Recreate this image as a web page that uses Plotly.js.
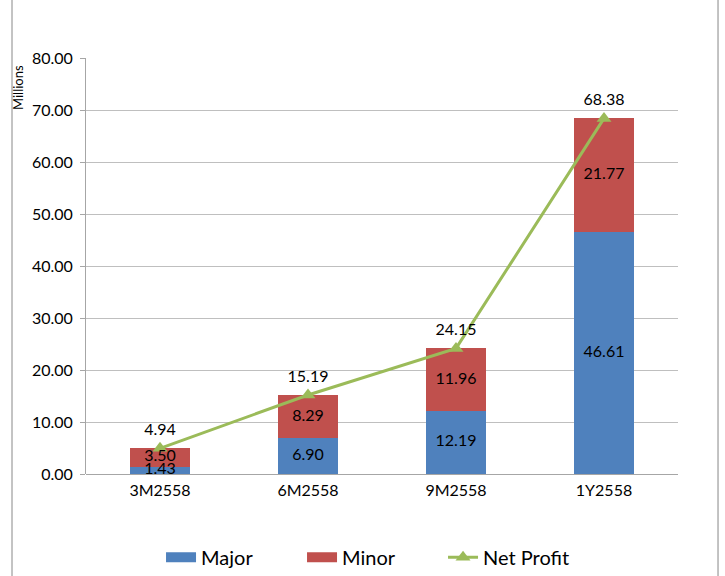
<!DOCTYPE html>
<html>
<head>
<meta charset="utf-8">
<script src="https://cdn.plot.ly/plotly-3.0.1.min.js"></script>
<style>html,body{margin:0;padding:0;background:#fff;}#chart{width:725px;height:576px;}</style>
</head>
<body>
<div id="chart"></div>
<script>
const categories = ["3M2558", "6M2558", "9M2558", "1Y2558"];
const major = [1.43, 6.90, 12.19, 46.61];
const minor = [3.50, 8.29, 11.96, 21.77];
const netProfit = [4.94, 15.19, 24.15, 68.38];
const yTicks = [0, 10, 20, 30, 40, 50, 60, 70, 80];

const fmt = v => v.toFixed(2);
const FONT = "Lato, 'Open Sans', sans-serif";
const BLUE = "#4F81BD", RED = "#C0504D", GREEN = "#9BBB59";

// segment label positions derived from the data (middle of each stacked segment)
const majorMid = major.map(v => v / 2);
const minorMid = minor.map((v, i) => major[i] + v / 2);

const traces = [
  {type: "bar", name: "Major", x: categories, y: major, marker: {color: BLUE},
   hoverinfo: "none", width: 0.4, showlegend: false},
  {type: "bar", name: "Minor", x: categories, y: minor, marker: {color: RED},
   hoverinfo: "none", width: 0.4, showlegend: false},
  // legend stand-ins (wide rectangles like the reference)
  {type: "scatter", name: "Major", x: [null], y: [null], mode: "lines",
   line: {color: BLUE, width: 10}, hoverinfo: "none"},
  {type: "scatter", name: "Minor", x: [null], y: [null], mode: "lines",
   line: {color: RED, width: 10}, hoverinfo: "none"},
  {
    type: "scatter", name: "Net Profit", x: categories, y: netProfit,
    mode: "lines+markers+text",
    line: {color: GREEN, width: 3},
    marker: {symbol: "triangle-up", size: 13, color: GREEN},
    text: netProfit.map(fmt), textposition: "top center",
    textfont: {family: FONT, size: 16, color: "#000"},
    cliponaxis: false, hoverinfo: "none"
  },
  {type: "scatter", x: categories, y: majorMid, mode: "text", text: major.map(fmt),
   textposition: "middle center", textfont: {family: FONT, size: 16, color: "#000"},
   showlegend: false, hoverinfo: "none", cliponaxis: false},
  {type: "scatter", x: categories, y: minorMid, mode: "text", text: minor.map(fmt),
   textposition: "middle center", textfont: {family: FONT, size: 16, color: "#000"},
   showlegend: false, hoverinfo: "none", cliponaxis: false}
];

const layout = {
  width: 725, height: 576,
  margin: {l: 86, r: 47, t: 57.5, b: 102, autoexpand: false},
  paper_bgcolor: "#fff", plot_bgcolor: "#fff",
  barmode: "stack",
  font: {family: FONT, size: 16, color: "#000"},
  xaxis: {
    type: "category", showgrid: false, zeroline: false,
    showline: false, ticks: "", ticklabelstandoff: 5,
    tickfont: {family: FONT, size: 16, color: "#000"}
  },
  yaxis: {
    range: [0, 80], tickvals: yTicks, ticktext: yTicks.map(fmt),
    showgrid: true, gridcolor: "#BFBFBF", gridwidth: 1,
    zeroline: true, zerolinecolor: "#A6A6A6", zerolinewidth: 1,
    showline: true, linecolor: "#A6A6A6", linewidth: 1,
    ticks: "outside", ticklen: 5, tickcolor: "#A6A6A6", ticklabelstandoff: 4,
    tickfont: {family: FONT, size: 16, color: "#000"}
  },
  showlegend: true,
  legend: {
    orientation: "h", x: 0.484, xanchor: "center", y: -0.2, yanchor: "middle",
    font: {family: FONT, size: 20, color: "#000"},
    traceorder: "normal", itemwidth: 30, entrywidth: 96
  },
  annotations: [{
    text: "Millions", xref: "paper", yref: "paper",
    x: -0.115, y: 0.989, xanchor: "center", yanchor: "top",
    textangle: -90, showarrow: false,
    font: {family: FONT, size: 13, color: "#000"}
  }],
  shapes: [
    {type: "line", xref: "paper", yref: "paper", x0: -0.125, x1: -0.125, y0: -0.3, y1: 1.2, line: {color: "#888", width: 1}},
    {type: "line", xref: "paper", yref: "paper", x0: 1.0676, x1: 1.0676, y0: -0.3, y1: 1.2, line: {color: "#888", width: 1}}
  ]
};

Plotly.newPlot("chart", traces, layout, {displayModeBar: false, staticPlot: true});
</script>
</body>
</html>
